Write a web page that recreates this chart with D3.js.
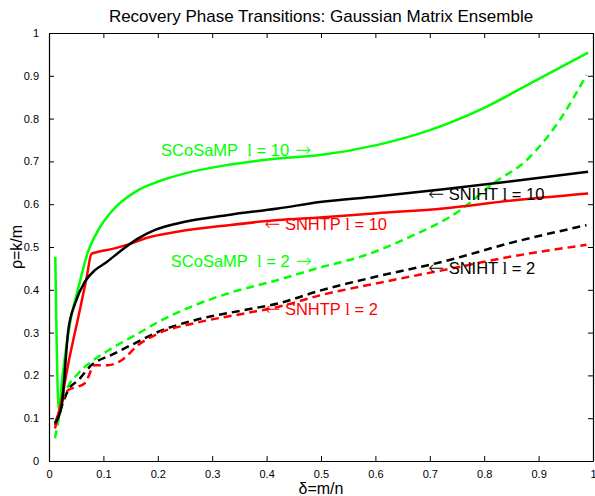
<!DOCTYPE html>
<html>
<head>
<meta charset="utf-8">
<script src="https://cdn.jsdelivr.net/npm/d3@7"></script>
<style>
  body { margin: 0; background: #fff; }
  text { font-family: "Liberation Sans", Arial, sans-serif; }
</style>
</head>
<body>
<div id="chart"></div>
<script>
// data
const xTicks = [0, 0.1, 0.2, 0.3, 0.4, 0.5, 0.6, 0.7, 0.8, 0.9, 1];
const yTicks = [0, 0.1, 0.2, 0.3, 0.4, 0.5, 0.6, 0.7, 0.8, 0.9, 1];

const scosamp10X = [0.0116, 0.018, 0.025, 0.0386, 0.054, 0.072, 0.0907, 0.115, 0.164, 0.201, 0.25, 0.33, 0.421, 0.498, 0.602, 0.70, 0.798, 0.896, 0.991];
const scosamp10Y = [0.477, 0.12, 0.20, 0.322, 0.405, 0.49, 0.54, 0.583, 0.633, 0.653, 0.672, 0.692, 0.707, 0.715, 0.738, 0.773, 0.824, 0.890, 0.954];

const sniht10X = [0.011, 0.023, 0.0355, 0.048, 0.066, 0.0846, 0.103, 0.134, 0.164, 0.195, 0.25, 0.33, 0.421, 0.498, 0.602, 0.725, 0.847, 0.991];
const sniht10Y = [0.088, 0.127, 0.306, 0.368, 0.419, 0.446, 0.462, 0.493, 0.520, 0.540, 0.559, 0.575, 0.590, 0.605, 0.618, 0.635, 0.653, 0.676];

const snhtp10X = [0.011, 0.020, 0.0355, 0.054, 0.069, 0.078, 0.0907, 0.115, 0.146, 0.176, 0.238, 0.33, 0.421, 0.498, 0.602, 0.725, 0.847, 0.991];
const snhtp10Y = [0.084, 0.123, 0.228, 0.337, 0.427, 0.484, 0.489, 0.495, 0.506, 0.520, 0.536, 0.551, 0.563, 0.569, 0.579, 0.590, 0.608, 0.625];

const scosamp2X = [0.011, 0.020, 0.0325, 0.054, 0.078, 0.115, 0.164, 0.207, 0.268, 0.33, 0.421, 0.498, 0.572, 0.664, 0.756, 0.817, 0.878, 0.939, 0.988];
const scosamp2Y = [0.053, 0.111, 0.166, 0.205, 0.232, 0.263, 0.298, 0.329, 0.364, 0.392, 0.423, 0.452, 0.477, 0.524, 0.586, 0.649, 0.703, 0.797, 0.902];

const sniht2X = [0.011, 0.023, 0.0355, 0.054, 0.078, 0.115, 0.164, 0.201, 0.268, 0.36, 0.421, 0.498, 0.602, 0.725, 0.847, 0.988];
const sniht2Y = [0.088, 0.127, 0.166, 0.189, 0.224, 0.248, 0.279, 0.302, 0.329, 0.353, 0.368, 0.398, 0.431, 0.466, 0.509, 0.551];

const snhtp2X = [0.011, 0.023, 0.0355, 0.054, 0.066, 0.0846, 0.109, 0.134, 0.164, 0.201, 0.268, 0.36, 0.421, 0.498, 0.602, 0.725, 0.847, 0.988];
const snhtp2Y = [0.076, 0.135, 0.166, 0.174, 0.182, 0.224, 0.224, 0.236, 0.271, 0.298, 0.322, 0.345, 0.360, 0.387, 0.415, 0.446, 0.477, 0.505];

const series = [
  {x: scosamp2X, y: scosamp2Y, color: "#00ff00", dash: "8,5"},
  {x: sniht2X, y: sniht2Y, color: "#000000", dash: "8,5"},
  {x: snhtp2X, y: snhtp2Y, color: "#ff0000", dash: "8,5"},
  {x: scosamp10X, y: scosamp10Y, color: "#00ff00", dash: null},
  {x: snhtp10X, y: snhtp10Y, color: "#ff0000", dash: null},
  {x: sniht10X, y: sniht10Y, color: "#000000", dash: null}
];

// curve labels, anchored at the start of the text (delta, rho of baseline)
const labels = [
  {name: "SCoSaMP", l: "10", arrow: "right", x: 0.206, y: 0.713, color: "#00ff00"},
  {name: "SCoSaMP", l: "2", arrow: "right", x: 0.224, y: 0.454, color: "#00ff00"},
  {name: "SNHTP", l: "10", arrow: "left", x: 0.396, y: 0.540, color: "#ff0000"},
  {name: "SNHTP", l: "2", arrow: "left", x: 0.396, y: 0.341, color: "#ff0000"},
  {name: "SNIHT", l: "10", arrow: "left", x: 0.697, y: 0.610, color: "#000000"},
  {name: "SNIHT", l: "2", arrow: "left", x: 0.697, y: 0.437, color: "#000000"}
];

const margin = {top: 33, right: 2, bottom: 35, left: 49},
      width = 595 - margin.left - margin.right,
      height = 496 - margin.top - margin.bottom;

const svg = d3.select("#chart")
    .append("svg")
    .attr("width", 595)
    .attr("height", 496)
    .append("g")
    .attr("transform", `translate(${margin.left}, ${margin.top})`);

const x = d3.scaleLinear().domain([0, 1]).range([0, width]);
const y = d3.scaleLinear().domain([0, 1]).range([height, 0]);

// axes, ticks inside like matlab
const tk = 5;
svg.append("g")
    .attr("transform", `translate(0, ${height})`)
    .call(d3.axisBottom(x).tickValues(xTicks).tickSizeInner(-tk).tickSizeOuter(0).tickPadding(tk + 4).tickFormat(d3.format("")));
svg.append("g")
    .call(d3.axisLeft(y).tickValues(yTicks).tickSizeInner(-tk).tickSizeOuter(0).tickPadding(tk + 5).tickFormat(d3.format("")));
svg.append("g")
    .call(d3.axisTop(x).tickValues(xTicks).tickSizeInner(-tk).tickSizeOuter(0).tickFormat(""));
svg.append("g")
    .attr("transform", `translate(${width}, 0)`)
    .call(d3.axisRight(y).tickValues(yTicks).tickSizeInner(-tk).tickSizeOuter(0).tickFormat(""));

svg.selectAll(".domain").attr("stroke", "#000").attr("stroke-width", 1.2);
svg.selectAll(".tick line").attr("stroke", "#000");
svg.selectAll(".tick text")
    .attr("font-family", "Liberation Sans, Arial, sans-serif")
    .attr("font-size", "11px")
    .attr("fill", "#000");

// lines
const line = d3.line()
    .x(d => x(d[0]))
    .y(d => y(d[1]))
    .curve(d3.curveMonotoneX);

svg.append("g")
    .selectAll("path")
    .data(series)
    .join("path")
    .attr("d", s => line(s.x.map((v, i) => [v, s.y[i]])))
    .attr("fill", "none")
    .attr("stroke", s => s.color)
    .attr("stroke-width", 2.5)
    .attr("stroke-dasharray", s => s.dash);

// labels
const lab = svg.append("g")
    .selectAll("text")
    .data(labels)
    .join("text")
    .attr("x", d => x(d.x))
    .attr("y", d => y(d.y))
    .attr("font-size", "16.5px")
    .attr("fill", d => d.color);

lab.each(function(d) {
    const t = d3.select(this);
    if (d.arrow === "left") {
        t.append("tspan").attr("font-family", "DejaVu Sans").attr("font-weight", 200).attr("font-size", "19px").text("\u2190");
        t.append("tspan").text("\u00a0" + d.name + " ");
    } else {
        t.append("tspan").text(d.name + "\u00a0\u00a0");
    }
    t.append("tspan").attr("font-family", "Liberation Serif").attr("font-size", "17px").text("l");
    t.append("tspan").text(" = " + d.l);
    if (d.arrow === "right") {
        t.append("tspan").attr("font-family", "DejaVu Sans").attr("font-weight", 200).attr("font-size", "19px").text("\u00a0\u2192");
    }
});

// title and axis labels
svg.append("text")
    .attr("x", width / 2)
    .attr("y", -11)
    .attr("text-anchor", "middle")
    .attr("font-size", "17px")
    .text("Recovery Phase Transitions: Gaussian Matrix Ensemble");

svg.append("text")
    .attr("x", width / 2)
    .attr("y", height + 33)
    .attr("text-anchor", "middle")
    .attr("font-size", "16px")
    .text("\u03b4=m/n");

svg.append("text")
    .attr("transform", "rotate(-90)")
    .attr("x", -height / 2)
    .attr("y", -27)
    .attr("text-anchor", "middle")
    .attr("font-size", "16px")
    .text("\u03c1=k/m");
</script>
</body>
</html>
